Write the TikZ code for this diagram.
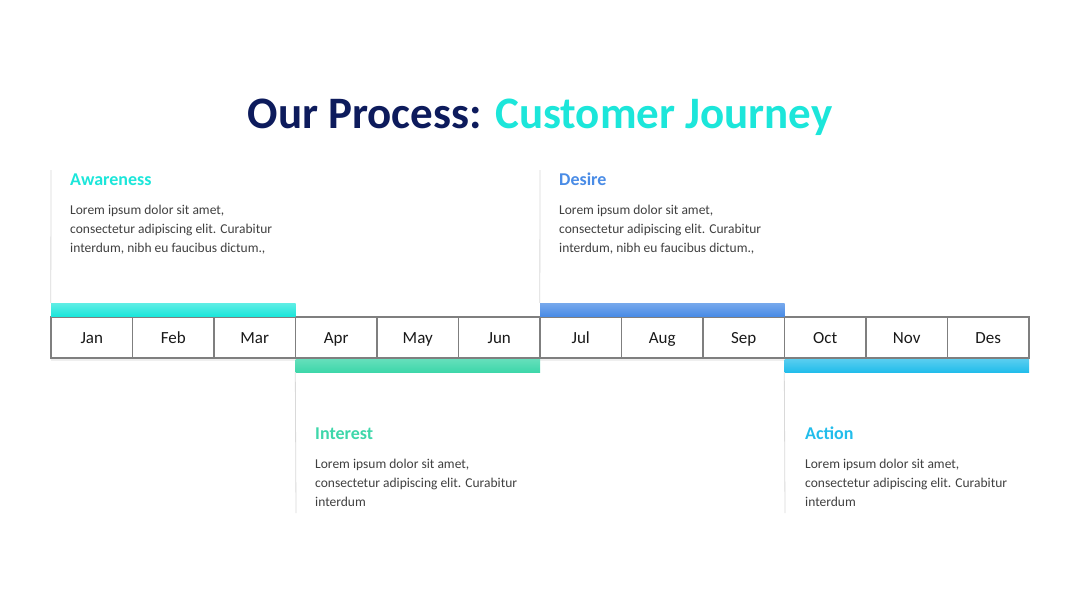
\documentclass[tikz,border=0pt]{standalone}
\usepackage{fontspec}
\setmainfont{Carlito}
\usetikzlibrary{positioning, shadows}
\definecolor{cjnavy}{HTML}{0D1B5C}
\definecolor{cjcyan}{HTML}{1CE6DA}
\definecolor{cjmint}{HTML}{3ED7AA}
\definecolor{cjblue}{HTML}{4A8CE6}
\definecolor{cjsky}{HTML}{22BDEB}
\definecolor{cjgrid}{HTML}{7F7F7F}
\definecolor{cjguide}{HTML}{D9D9D9}
\definecolor{cjtext}{HTML}{404040}

\begin{document}
\begin{tikzpicture}[
        x=1pt, y=-1pt,
        month/.style={draw=cjgrid, line width=1.6pt, fill=white, inner sep=0pt,
                      minimum width=81.5pt, minimum height=41pt,
                      text height=12.5pt, text depth=0pt,
                      font=\fontsize{17}{20}\selectfont, text=black!90,
                      drop shadow={opacity=0.12, shadow xshift=0pt, shadow yshift=-3pt}},
        bar/.style={inner sep=0pt, minimum width=244.5pt, minimum height=13pt},
        head/.style={anchor=base west, inner sep=0pt, font=\fontsize{18}{20}\selectfont\bfseries},
        body/.style={anchor=north west, inner sep=0pt, align=left, text=cjtext,
                     font=\fontsize{13.5}{19}\selectfont},
        guide/.style={draw=cjguide, line width=0.8pt},
      ]
        \fill[white] (0,0) rectangle (1080,608);
        \useasboundingbox (0,0) rectangle (1080,608);
        % title
        \node[anchor=base, inner sep=0pt, font=\fontsize{45}{50}\selectfont\bfseries] (title) at (540,128)
          {\textcolor{cjnavy}{Our Process:} \textcolor{cjcyan}{Customer Journey}};
        % month row
        \foreach \m [count=\i] in {Jan,Feb,Mar,Apr,May,Jun,Jul,Aug,Sep,Oct,Nov,Des}
          \node[month] (m\i) at ({51+(\i-0.5)*81.5},337.5) {\m};
        % phase bars
        \node[bar, top color=cjcyan!70!white, bottom color=cjcyan, above=0pt of m2]  (awbar) {};
        \node[bar, top color=cjmint!80!white, bottom color=cjmint, below=0pt of m5]  (inbar) {};
        \node[bar, top color=cjblue!75!white, bottom color=cjblue, above=0pt of m8]  (debar) {};
        \node[bar, top color=cjsky!75!white, bottom color=cjsky, below=0pt of m11] (acbar) {};
        % guide lines
        \coordinate (awtop) at (51,170);
        \coordinate (detop) at (540,170);
        \coordinate (inend) at (296,513);
        \coordinate (acend) at (785,513);
        \draw[guide] (awbar.north west) -- (awtop);
        \draw[guide] (debar.north west) -- (detop);
        \draw[guide] (inbar.south west) -- (inend);
        \draw[guide] (acbar.south west) -- (acend);
        % phase texts
        \node[head, text=cjcyan] (awhead) at (70,185) {Awareness};
        \node[body] (awbody) at (70,204.5)
          {Lorem ipsum dolor sit amet,\\consectetur adipiscing elit. Curabitur\\interdum, nibh eu faucibus dictum.,};
        \node[head, text=cjblue] (dehead) at (559,185) {Desire};
        \node[body] (debody) at (559,204.5)
          {Lorem ipsum dolor sit amet,\\consectetur adipiscing elit. Curabitur\\interdum, nibh eu faucibus dictum.,};
        \node[head, text=cjmint] (inhead) at (315,439) {Interest};
        \node[body] (inbody) at (315,458.5)
          {Lorem ipsum dolor sit amet,\\consectetur adipiscing elit. Curabitur\\interdum};
        \node[head, text=cjsky] (achead) at (805,439) {Action};
        \node[body] (acbody) at (805,458.5)
          {Lorem ipsum dolor sit amet,\\consectetur adipiscing elit. Curabitur\\interdum};
      \end{tikzpicture}
\end{document}
